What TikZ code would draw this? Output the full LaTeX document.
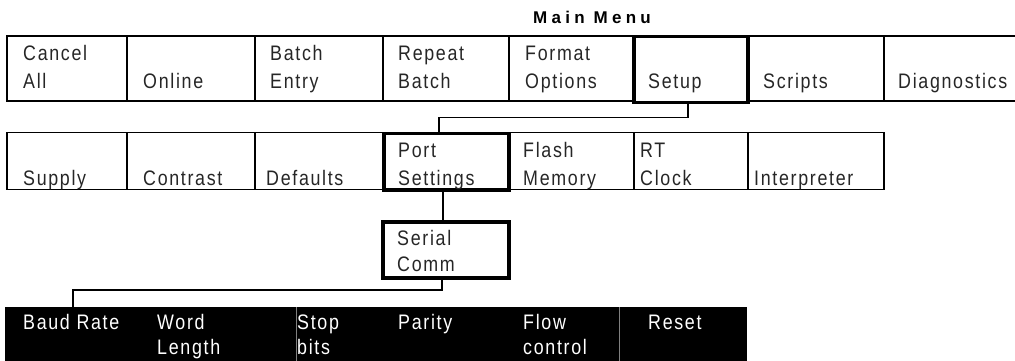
\documentclass[tikz,border=0pt]{standalone}
\usepackage{fontspec}
\newfontfamily\menufont[FakeStretch=0.85, LetterSpace=8]{Liberation Sans}
\newfontfamily\titlefont[LetterSpace=25]{Liberation Sans}
\begin{document}
\begin{tikzpicture}[x=1pt, y=-1pt,
		cell/.style={draw, line width=1.5pt, anchor=north west, inner sep=0pt, outer sep=0pt},
		sel/.style={cell, line width=3.5pt},
		dark/.style={fill=black, anchor=north west, inner sep=0pt, outer sep=0pt, minimum height=60},
		txt/.style={anchor=base west, inner sep=0pt, text=black!85, font=\menufont\fontsize{21}{24}\selectfont},
		wtxt/.style={txt, text=white!92},
		link/.style={line width=1.5pt},
		divider/.style={gray, line width=0.8pt}]
		\useasboundingbox (0,0) rectangle (1015,360);
		
		% 标题
		\node[anchor=base west, inner sep=0pt, font=\titlefont\bfseries\fontsize{17}{20}\selectfont] (title) at (533,23) {Main Menu};
		
		% 第一层
		\begin{scope}
			\node[cell, minimum width=120, minimum height=65] (cancel) at (7,36) {};
			\node[cell, minimum width=128, minimum height=65] (online) at (127,36) {};
			\node[cell, minimum width=128, minimum height=65] (batch) at (255,36) {};
			\node[cell, minimum width=126, minimum height=65] (repeat) at (383,36) {};
			\node[cell, minimum width=125, minimum height=65] (format) at (509,36) {};
			\node[cell, minimum width=136, minimum height=65] (scripts) at (748,36) {};
			\node[cell, minimum width=140, minimum height=65] (diag) at (884,36) {};
			\node[sel, minimum width=114, minimum height=66] (setup) at (634,36.5) {};
			\node[txt] (cancel-a) at (23,60) {Cancel};
			\node[txt] (cancel-b) at (23,88) {All};
			\node[txt] (online-b) at (143,88) {Online};
			\node[txt] (batch-a) at (270,60) {Batch};
			\node[txt] (batch-b) at (270,88) {Entry};
			\node[txt] (repeat-a) at (398,60) {Repeat};
			\node[txt] (repeat-b) at (398,88) {Batch};
			\node[txt] (format-a) at (525,60) {Format};
			\node[txt] (format-b) at (525,88) {Options};
			\node[txt] (setup-b) at (648,88) {Setup};
			\node[txt] (scripts-b) at (763,88) {Scripts};
			\node[txt] (diag-b) at (898,88) {Diagnostics};
		\end{scope}
		
		% 第二层
		\begin{scope}
			\node[cell, minimum width=120, minimum height=57] (supply) at (7,132.5) {};
			\node[cell, minimum width=128, minimum height=57] (contrast) at (127,132.5) {};
			\node[cell, minimum width=129, minimum height=57] (defaults) at (255,132.5) {};
			\node[cell, minimum width=125, minimum height=57] (flash) at (509,132.5) {};
			\node[cell, minimum width=114, minimum height=57] (rtclock) at (634,132.5) {};
			\node[cell, minimum width=136, minimum height=57] (interp) at (748,132.5) {};
			\node[sel, minimum width=125, minimum height=56.5] (port) at (384,133.5) {};
			\node[txt] (supply-b) at (23,185) {Supply};
			\node[txt] (contrast-b) at (143,185) {Contrast};
			\node[txt] (defaults-b) at (266,185) {Defaults};
			\node[txt] (port-a) at (398,157) {Port};
			\node[txt] (port-b) at (398,185) {Settings};
			\node[txt] (flash-a) at (523,157) {Flash};
			\node[txt] (flash-b) at (523,185) {Memory};
			\node[txt] (rtclock-a) at (640,157) {RT};
			\node[txt] (rtclock-b) at (640,185) {Clock};
			\node[txt] (interp-b) at (754,185) {Interpreter};
		\end{scope}
		
		% 第三层
		\node[sel, minimum width=126, minimum height=56] (serial) at (383,222) {};
		\node[txt] (serial-a) at (397,245) {Serial};
		\node[txt] (serial-b) at (397,271) {Comm};
		
		% 第四层
		\begin{scope}
			\node[dark, minimum width=143] (baud) at (5,307) {};
			\node[dark, minimum width=148] (word) at (148,307) {};
			\node[dark, minimum width=94] (stop) at (296,307) {};
			\node[dark, minimum width=120] (parity) at (390,307) {};
			\node[dark, minimum width=109] (flow) at (510,307) {};
			\node[dark, minimum width=128] (reset) at (619,307) {};
			\draw[divider] (stop.north west) -- (stop.south west);
			\draw[divider] (reset.north west) -- (reset.south west);
			\node[wtxt] (baud-a) at (23,329) {Baud Rate};
			\node[wtxt] (word-a) at (157,329) {Word};
			\node[wtxt] (word-b) at (157,354) {Length};
			\node[wtxt] (stop-a) at (297,329) {Stop};
			\node[wtxt] (stop-b) at (297,354) {bits};
			\node[wtxt] (parity-a) at (398,329) {Parity};
			\node[wtxt] (flow-a) at (523,329) {Flow};
			\node[wtxt] (flow-b) at (523,354) {control};
			\node[wtxt] (reset-a) at (648,329) {Reset};
		\end{scope}
		
		% 连线
		\draw[link] ([xshift=-3pt]setup.south) -- ++(0,15) -| ([xshift=-7.5pt]port.north);
		\draw[link] ([xshift=-3.5pt]port.south) -- ([xshift=-3pt]serial.north);
		\draw[link] ([xshift=-4pt]serial.south) -- ++(0,12) -| ([xshift=-3.5pt]baud.north);
	\end{tikzpicture}
\end{document}
